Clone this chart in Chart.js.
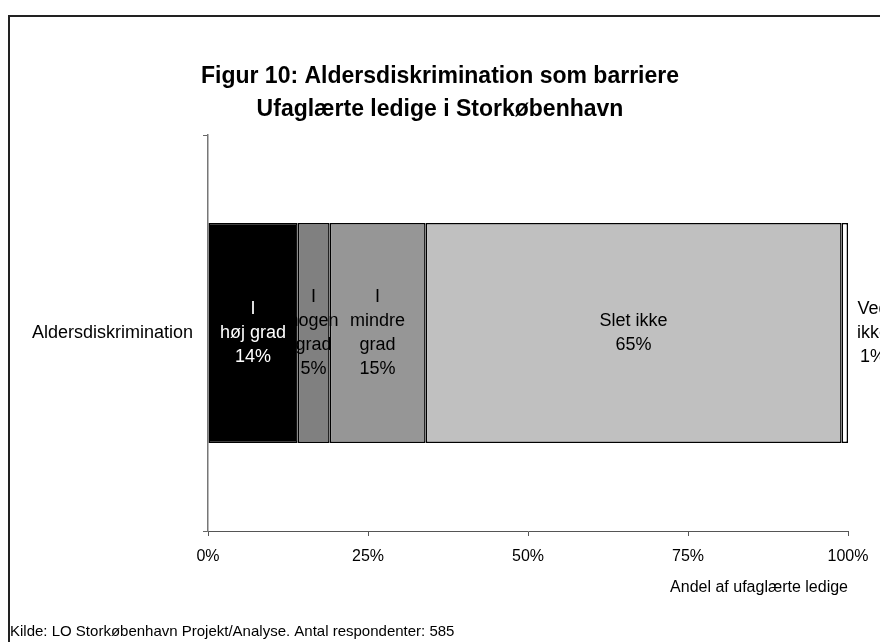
<!DOCTYPE html>
<html>
<head>
<meta charset="utf-8">
<script src="https://cdn.jsdelivr.net/npm/chart.js@4"></script>
<style>
  body { margin: 0; background: #fff; }
</style>
</head>
<body>
<canvas id="chart" width="880" height="642"></canvas>
<script>
const categories = ['Aldersdiskrimination']
const seriesNames = ['I høj grad', 'I nogen grad', 'I mindre grad', 'Slet ikke', 'Ved ikke']
const seriesLabelLines = [['I', 'høj grad'], ['I', 'nogen', 'grad'], ['I', 'mindre', 'grad'], ['Slet ikke'], ['Ved', 'ikke']]
const seriesValues = [14, 5, 15, 65, 1]
const seriesColors = ['#000000', '#808080', '#969696', '#c0c0c0', '#ffffff']
const labelColors = ['#ffffff', '#000000', '#000000', '#000000', '#000000']
const xTicks = [0, 25, 50, 75, 100]
const titleLines = ['Figur 10: Aldersdiskrimination som barriere', 'Ufaglærte ledige i Storkøbenhavn']
const xTitle = 'Andel af ufaglærte ledige'
const sourceText = 'Kilde: LO Storkøbenhavn Projekt/Analyse. Antal respondenter: 585'

const FONT = '"Liberation Sans", Arial, sans-serif'
Chart.defaults.font.family = FONT
Chart.defaults.color = '#000'

const framePlugin = {
    id: 'frame',
    beforeDraw(chart) {
        const ctx = chart.ctx
        ctx.save()
        ctx.fillStyle = '#fff'
        ctx.fillRect(0, 0, chart.width, chart.height)
        ctx.strokeStyle = '#222'
        ctx.lineWidth = 2
        ctx.beginPath()
        ctx.moveTo(9, chart.height)
        ctx.lineTo(9, 16)
        ctx.lineTo(chart.width, 16)
        ctx.stroke()
        ctx.restore()
    },
    afterDraw(chart) {
        const ctx = chart.ctx
        ctx.save()
        ctx.font = '15px ' + FONT
        ctx.fillStyle = '#000'
        ctx.textAlign = 'left'
        ctx.textBaseline = 'middle'
        ctx.fillText(sourceText, 10, 632)
        ctx.restore()
    }
}

const segmentLabels = {
    id: 'segmentLabels',
    afterDatasetsDraw(chart) {
        const ctx = chart.ctx
        ctx.save()
        ctx.font = '18px ' + FONT
        ctx.textAlign = 'center'
        ctx.textBaseline = 'middle'
        chart.data.datasets.forEach((ds, i) => {
            const bar = chart.getDatasetMeta(i).data[0]
            const lines = seriesLabelLines[i].concat([ds.data[0] + '%'])
            let cx = (bar.x + bar.base) / 2
            // last segment is too thin, label sits right of the bar
            if (i === seriesValues.length - 1) cx = bar.x + 25
            const lh = 24
            const y0 = bar.y - (lines.length - 1) * lh / 2
            ctx.fillStyle = labelColors[i]
            lines.forEach((t, k) => ctx.fillText(t, cx, y0 + k * lh))
        })
        ctx.restore()
    }
}

new Chart(document.getElementById('chart'), {
    type: 'bar',
    data: {
        labels: categories,
        datasets: seriesNames.map((name, i) => ({
            label: name,
            data: [seriesValues[i]],
            backgroundColor: seriesColors[i],
            borderColor: '#000',
            borderWidth: 1.5,
            borderSkipped: false,
            barPercentage: 1,
            categoryPercentage: 0.555
        }))
    },
    options: {
        indexAxis: 'y',
        responsive: false,
        animation: false,
        layout: { padding: { left: 0, right: 0, top: 0, bottom: 45 } },
        plugins: {
            legend: { display: false },
            tooltip: { enabled: false },
            title: {
                display: true,
                text: titleLines,
                color: '#000',
                font: { size: 23, weight: 'bold', lineHeight: 1.435 },
                padding: { top: 60, bottom: 9 }
            }
        },
        scales: {
            x: {
                stacked: true,
                min: 0,
                max: 100,
                afterBuildTicks(scale) {
                    scale.ticks = xTicks.map(v => ({ value: v }))
                },
                afterFit(scale) { scale.height = 66 },
                ticks: {
                    font: { size: 16 },
                    color: '#000',
                    padding: 11,
                    maxRotation: 0,
                    callback: v => v + '%'
                },
                grid: { drawOnChartArea: false, tickLength: 5, tickColor: '#555' },
                border: { color: '#555', width: 1 },
                title: {
                    display: true,
                    text: xTitle,
                    align: 'end',
                    color: '#000',
                    font: { size: 16, lineHeight: 1.2 },
                    padding: { top: 0, bottom: 0 }
                }
            },
            y: {
                stacked: true,
                afterFit(scale) { scale.width = 208 },
                ticks: { font: { size: 18 }, color: '#000', padding: 10 },
                grid: { drawOnChartArea: false, offset: true, tickLength: 5, tickColor: '#666' },
                border: { color: '#777', width: 1.5 }
            },
            // empty strip on the right so the title stays centred on the page
            yRight: {
                type: 'category',
                position: 'right',
                afterFit(scale) { scale.width = 32 },
                ticks: { display: false },
                grid: { display: false },
                border: { display: false }
            }
        }
    },
    plugins: [framePlugin, segmentLabels]
})
</script>
</body>
</html>
